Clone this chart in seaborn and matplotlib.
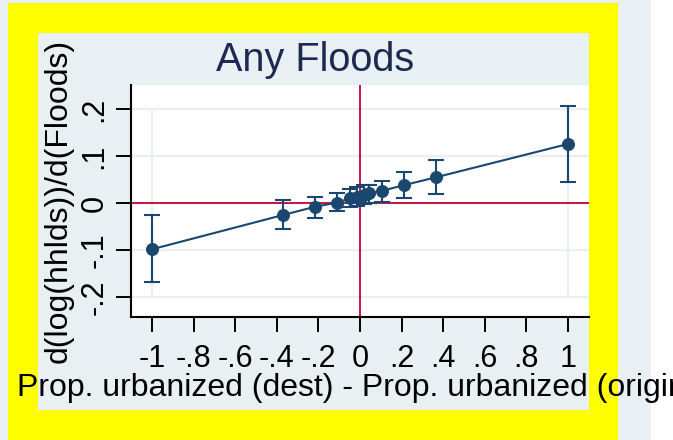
import numpy as np
import pandas as pd
import matplotlib
matplotlib.use("Agg")
import matplotlib.pyplot as plt
from matplotlib.patches import Rectangle
import seaborn as sns

# values
diff_urban = [-1.0, -0.369, -0.216, -0.109, -0.048, -0.014, 0.02, 0.042, 0.107, 0.212, 0.364, 1.0]
coef = [-0.0985, -0.0255, -0.008, 0.001, 0.0098, 0.013, 0.017, 0.0204, 0.026, 0.038, 0.0545, 0.1255]
ci_low = [-0.1685, -0.056, -0.032, -0.018, -0.009, -0.006, -0.002, 0.001, 0.003, 0.010, 0.019, 0.045]
ci_high = [-0.025, 0.006, 0.0134, 0.021, 0.030, 0.035, 0.038, 0.039, 0.047, 0.065, 0.0915, 0.206]

xticks = [-1, -0.8, -0.6, -0.4, -0.2, 0, 0.2, 0.4, 0.6, 0.8, 1]
xtick_labels = ['-1', '-.8', '-.6', '-.4', '-.2', '0', '.2', '.4', '.6', '.8', '1']
yticks = [-0.2, -0.1, 0, 0.1, 0.2]
ytick_labels = ['-.2', '-.1', '0', '.1', '.2']

df = pd.DataFrame({'x': diff_urban, 'b': coef, 'lo': ci_low, 'hi': ci_high})

navy = '#1a476f'
red = '#c10534'
light = '#e9f0f3'

sns.set_style('white')
plt.rcParams['font.family'] = ['Liberation Sans', 'DejaVu Sans']
plt.rcParams['text.color'] = 'black'
plt.rcParams['xtick.color'] = 'black'
plt.rcParams['ytick.color'] = 'black'
plt.rcParams['axes.labelcolor'] = 'black'

W, H = 673, 440
fig = plt.figure(figsize=(W / 100, H / 100), dpi=100)
fig.patch.set_facecolor('white')


def box(x0, y0, x1, y1, color):
    # pixel coords from top-left
    fig.patches.append(Rectangle((x0 / W, 1 - y1 / H), (x1 - x0) / W, (y1 - y0) / H,
                                 transform=fig.transFigure, facecolor=color,
                                 edgecolor='none', zorder=-10))


box(0, 0, 651, 440, light)
box(8, 3, 618, 440, '#ffff00')
box(38, 33, 589, 410, light)

ax = fig.add_axes([131 / W, 1 - 317 / H, (589 - 131) / W, (317 - 85) / H])
ax.set_facecolor('white')

# grid
for yv in yticks:
    ax.axhline(yv, color=light, lw=1.6, zorder=0)
ax.vlines([-1, 1], -0.2, 0.2, color=light, lw=1.6, zorder=0)

ax.axhline(0, color=red, lw=1.3, zorder=1)
ax.axvline(0, color=red, lw=1.3, zorder=1)

ax.errorbar(df['x'], df['b'], yerr=[df['b'] - df['lo'], df['hi'] - df['b']],
            fmt='none', ecolor=navy, elinewidth=1.5, capsize=6, capthick=1.5, zorder=2)
sns.lineplot(data=df, x='x', y='b', ax=ax, color=navy, lw=1.5, marker='o',
             markersize=8.6, markeredgecolor=navy, zorder=3)

ax.set_xlim(-1.101, 1.101)
ax.set_ylim(-0.2426, 0.251)
ax.set_xticks(xticks)
ax.set_xticklabels(xtick_labels)
ax.set_yticks(yticks)
ax.set_yticklabels(ytick_labels, rotation=90, va='center')
ax.tick_params(axis='both', length=10.5, width=1.4, color='black', labelsize=22,
               labelcolor='black', direction='out', left=True, bottom=True)
ax.tick_params(axis='x', pad=9)
ax.tick_params(axis='y', pad=5)

for s in ['top', 'right']:
    ax.spines[s].set_visible(False)
for s in ['left', 'bottom']:
    ax.spines[s].set_color('black')
    ax.spines[s].set_linewidth(1.5)

ax.set_xlabel('')
ax.set_ylabel('d(log(hhlds))/d(Floods)', fontsize=23, labelpad=4, color='black')
fig.text(357 / W, 1 - 396 / H, 'Prop. urbanized (dest) - Prop. urbanized (origin)',
         fontsize=23, ha='center', va='baseline', color='black')
fig.text(315 / W, 1 - 70.7 / H, 'Any Floods', fontsize=28.5, ha='center',
         va='baseline', color='#1c2a52')

fig.savefig('out.png', dpi=100)
